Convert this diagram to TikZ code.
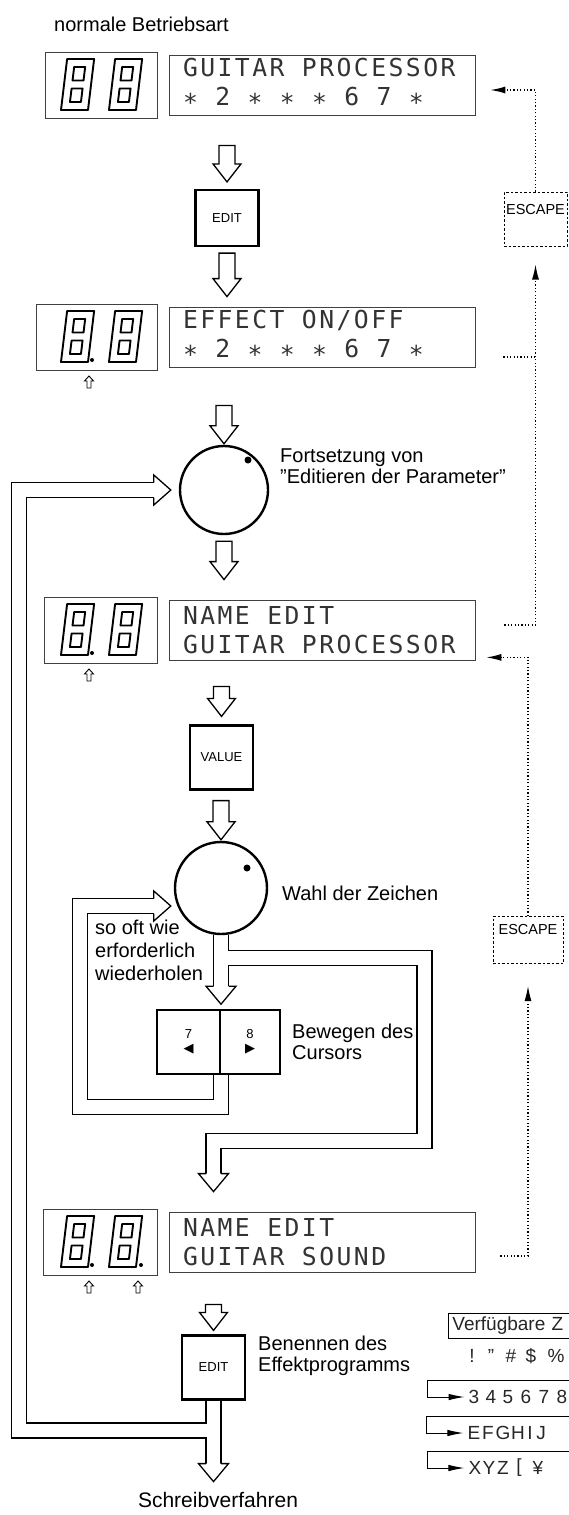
\documentclass[tikz,border=0pt]{standalone}
\usepackage{fontspec}
\setmainfont{Liberation Sans}
\newfontfamily\lcdfont[LetterSpace=10]{DejaVu Sans Mono}
\newfontfamily\trifont{DejaVu Sans}
\usetikzlibrary{arrows.meta, positioning, calc, backgrounds}

% hollow arrow pointing down, from top point to tip
\newcommand{\hollowdown}[2]{%
  \draw[hollow] let \p1=(#1), \p2=(#2) in
    (\x2-8pt,\y1) -- (\x2-8pt,\y2+18pt) -- (\x2-14pt,\y2+18pt) -- (\x2,\y2)
    -- (\x2+14pt,\y2+18pt) -- (\x2+8pt,\y2+18pt) -- (\x2+8pt,\y1) -- cycle;}
% open heads for the double-line paths
\newcommand{\headdown}[1]{%
  \filldraw[ahead] let \p1=(#1) in
    (\x1-7.5pt,\y1) -- (\x1-15pt,\y1) -- (\x1,\y1-18pt) -- (\x1+15pt,\y1) -- (\x1+7.5pt,\y1);}
\newcommand{\headright}[1]{%
  \filldraw[ahead] let \p1=(#1) in
    (\x1,\y1+7.5pt) -- (\x1,\y1+15pt) -- (\x1+17pt,\y1) -- (\x1,\y1-15pt) -- (\x1,\y1-7.5pt);}
% seven segment digit, lower left corner at (#1,#2)
\newcommand{\segdigit}[2]{%
  \begin{scope}[shift={(#1,#2)}, xslant=0.12]
    \draw[digit] (0,0) rectangle (27,-51);
    \draw[digit] (8,-8) rectangle (19,-21.5);
    \draw[digit] (8,-29.5) rectangle (19,-43);
  \end{scope}}
% small cursor mark below a decimal point, tip at (#1,#2)
\newcommand{\cursormark}[2]{%
  \draw[line width=0.9pt] (#1-2,#2+12) -- (#1-2,#2+5) -- (#1-4.5,#2+5) -- (#1,#2)
    -- (#1+4.5,#2+5) -- (#1+2,#2+5) -- (#1+2,#2+12) -- cycle;}
\newcommand{\lcdstar}{\raisebox{-0.22em}{*}}
\newcommand{\lsp}{\hspace*{17.4pt}}

\begin{document}
\begin{tikzpicture}[
    x=1pt, y=-1pt,
    lbl/.style={font=\fontsize{20}{21}\selectfont, align=left, inner sep=0pt},
    segbox/.style={draw=black!75, line width=0.8pt, minimum height=66pt, inner sep=0pt},
    lcdbox/.style={draw=black!75, line width=0.8pt, minimum width=306pt, minimum height=60pt,
        text width=278pt, inner xsep=14pt, inner ysep=0pt, align=left, text=black!80,
        font=\lcdfont\fontsize{24.7}{29}\selectfont},
    keybtn/.style={draw, line width=2.2pt, minimum width=63pt, minimum height=64pt,
        inner sep=0pt, align=center, font=\fontsize{13}{14}\selectfont},
    escbox/.style={draw, line width=1pt, dash pattern=on 2.5pt off 2pt,
        minimum width=63pt, minimum height=54pt},
    esctxt/.style={font=\fontsize{14.5}{15}\selectfont, inner sep=0pt},
    knob/.style={circle, draw, line width=2.4pt, inner sep=0pt},
    digit/.style={line width=1.9pt, line join=round},
    hollow/.style={draw, line width=1.3pt, fill=white, line join=miter},
    ahead/.style={line width=1.3pt, fill=white, line join=miter},
    pipeo/.style={line width=16.3pt, black},
    pipei/.style={line width=13.7pt, white},
    dotline/.style={line width=1.2pt, dash pattern=on 1.2pt off 2.2pt},
    escarr/.style={-{Latex[length=15pt,width=7pt]}},
    chars/.style={font=\fontsize{19}{20}\selectfont, inner sep=0pt, text=black!85},
    wrap/.style={line width=1pt, -{Latex[length=16pt,width=6.5pt]}},
]
\useasboundingbox (0,0) rectangle (569,1515);
% === Title ===
\node[lbl, anchor=west] (mode) at (54,24) {normale Betriebsart};
% === Displays ===
\foreach \r/\yc/\sl/\la/\lb in {
    1/85/45/{GUITAR\lsp PROCESSOR}/{\lcdstar\lsp 2\lsp \lcdstar\lsp \lcdstar\lsp \lcdstar\lsp 6\lsp 7\lsp \lcdstar},
    2/337/36/{EFFECT\lsp ON/OFF}/{\lcdstar\lsp 2\lsp \lcdstar\lsp \lcdstar\lsp \lcdstar\lsp 6\lsp 7\lsp \lcdstar},
    3/630/44/{NAME\lsp EDIT}/{GUITAR\lsp PROCESSOR},
    4/1242/43/{NAME\lsp EDIT}/{GUITAR\lsp SOUND}} {
    \node[segbox, minimum width={157-\sl}] (seg\r) at ({(157+\sl)/2},\yc) {};
    \node[lcdbox] (lcd\r) at (322,\yc) {\la\\\lb};
    \segdigit{61}{\yc+25}
    \segdigit{109}{\yc+25}
}
% decimal points and cursor marks
\foreach \yc/\px in {337/92, 630/92, 1242/92, 1242/141} {
    \fill (\px,\yc+23) circle (2);
    \cursormark{\px-3}{\yc+39}
}
% === Keys and knobs ===
\node[keybtn, minimum height=56pt] (edit1) at (227,218) {EDIT};
\node[knob, minimum size=88pt] (knob1) at (224,490) {};
\fill ($(knob1)+(24,-30)$) circle (3.5);
\node[keybtn] (value) at (221.5,757.5) {VALUE};
\node[knob, minimum size=92pt] (knob2) at (221,888) {};
\fill ($(knob2)+(26,-20)$) circle (3.5);
\node[keybtn] (curl) at (188.5,1042) {7\\{\trifont ◀}};
\node[keybtn, minimum width=60pt, right=-2.2pt of curl] (curr) {8\\{\trifont ▶}};
\node[keybtn] (edit2) at (213.5,1367.5) {EDIT};
% === ESCAPE ===
\node[escbox] (esc1) at (535.5,219) {};
\node[esctxt] (esc1t) at ($(esc1)+(0,-9)$) {ESCAPE};
\node[escbox, minimum width=70pt, minimum height=47pt] (esc2) at (528,940) {};
\node[esctxt] (esc2t) at ($(esc2)+(0,-11)$) {ESCAPE};
% === Labels ===
\node[lbl, anchor=west] (cont) at (280,466) {Fortsetzung von\\''Editieren der Parameter''};
\node[lbl, anchor=west] (pick) at (282,893) {Wahl der Zeichen};
\node[lbl, anchor=west, font=\fontsize{20}{23}\selectfont] (rep) at (95,950) {so oft wie\\erforderlich\\wiederholen};
\node[lbl, anchor=west] (move) at (292,1042) {Bewegen des\\Cursors};
\node[lbl, anchor=west] (nameit) at (258,1356) {Benennen des\\Effektprogramms};
\node[lbl, font=\fontsize{21}{22}\selectfont] (write) at (218,1500) {Schreibverfahren};
% === Straight hollow arrows ===
\hollowdown{$(edit1.north |- lcd1.south)+(0,30)$}{$(edit1.north)+(0,-7)$}
\hollowdown{$(edit1.south)+(0,6)$}{$(edit1.south |- lcd2.north)+(0,-10)$}
\hollowdown{$(knob1.north |- seg2.south)+(0,35)$}{$(knob1.north)+(0,-1)$}
\hollowdown{$(knob1.south)+(0,6)$}{$(knob1.south |- lcd3.north)+(0,-20)$}
\hollowdown{$(value.north |- seg3.south)+(0,23)$}{$(value.north)+(0,-8)$}
\hollowdown{$(value.south)+(0,10)$}{$(knob2.north)+(0,-1)$}
\hollowdown{$(edit2.north |- seg4.south)+(0,29)$}{$(edit2.north)+(0,-4)$}
% === Double-line paths (loops and branches) ===
\coordinate (h1) at ($(knob1.west)+(-25,0)$);
\coordinate (rail1) at (19,0);
\coordinate (j1) at ($(edit2.south)+(0,30)$);
\coordinate (h10) at ($(edit2.south)+(0,63)$);
\coordinate (s2) at (curl.south east);
\coordinate (j2) at ($(s2)+(0,32)$);
\coordinate (rail2) at (80,0);
\coordinate (h2) at ($(knob2.west)+(-20,18)$);
\coordinate (h7) at ($(knob2.south)+(0,51)$);
\coordinate (j3) at ($(knob2.south)+(0,22.5)$);
\coordinate (rail3) at (424.5,0);
\coordinate (h8) at ($(edit2.north |- lcd4.north)+(0,-38)$);
\coordinate (c3) at ($(h8)+(0,-32.5)$);
\begin{scope}[on background layer]
  \foreach \s in {pipeo,pipei} {
    \draw[\s] (knob2.south) -- (h7);
    \draw[\s] (j3) -- (j3 -| rail3) -- (rail3 |- c3) -- (c3) -- (h8);
    \draw[\s] (s2) -- (j2) -- (j2 -| rail2) -- (rail2 |- h2) -- (h2);
    \draw[\s] (edit2.south) -- (h10);
    \draw[\s] (j1) -- (j1 -| rail1) -- (rail1 |- h1) -- (h1);
  }
\end{scope}
\headdown{h7}
\headdown{h8}
\headdown{h10}
\headright{h1}
\headright{h2}
% === Dotted ESCAPE connectors ===
\coordinate (fbA) at ($(lcd2.east)+(28,20)$);
\coordinate (fbB) at ($(lcd3.east)+(29,-5)$);
\coordinate (fbC) at ($(lcd4.east)+(25,14)$);
\draw[dotline] (fbA) -- (fbA -| esc1.south);
\draw[dotline, escarr] (fbB) -| ($(esc1.south)+(0,18)$);
\draw[dotline, escarr] (esc1.north) |- ($(lcd1.east)+(15,5)$);
\draw[dotline, escarr] (fbC) -| ($(esc2.south)+(0,22)$);
\draw[dotline, escarr] (esc2.north) |- ($(lcd3.south east)+(11,-3)$);
% === Available characters ===
\node[chars, draw, line width=0.8pt, anchor=west, minimum width=140pt, minimum height=25pt,
    text width=132pt, inner xsep=4pt, align=left] (avail) at (448,1325.5) {Verfügbare Z};
\foreach \i/\x/\c in {1/472/!, 2/491/", 3/511/\#, 4/531/\$, 5/556/\%}
    \node[chars] (ca\i) at (\x,1356) {\c};
\foreach \i/\x/\c in {1/474/3, 2/491/4, 3/508/5, 4/526/6, 5/544/7, 6/562/8}
    \node[chars] (cb\i) at (\x,1397) {\c};
\foreach \i/\x/\c in {1/474/E, 2/488/F, 3/503/G, 4/518/H, 5/530/I, 6/541/J}
    \node[chars] (cc\i) at (\x,1433) {\c};
\foreach \i/\x/\c in {1/475/X, 2/489/Y, 3/503/Z, 4/519/{[}, 5/538/¥}
    \node[chars] (cd\i) at (\x,1468) {\c};
\foreach \r in {b,c,d}
    \draw[wrap] ($(c\r1.west)+(120,-17)$) -| ($(c\r1.west)+(-41,0)$) -- ($(c\r1.west)+(-4,0)$);
\end{tikzpicture}
\end{document}
